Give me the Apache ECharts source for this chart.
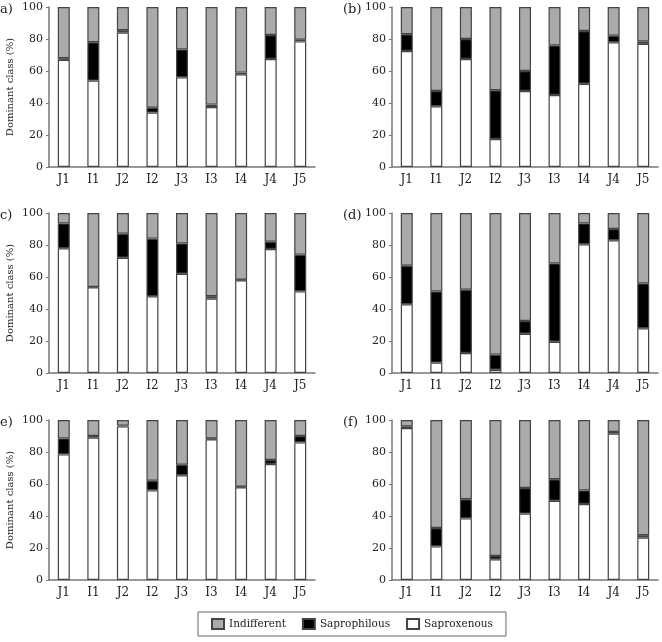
<!DOCTYPE html>
<html>
<head>
<meta charset="utf-8">
<script src="https://cdn.jsdelivr.net/npm/echarts@6/dist/echarts.min.js"></script>
<style>
  html, body { margin: 0; padding: 0; background: #fff; }
  #chart { width: 662px; height: 642px; }
</style>
</head>
<body>
<div id="chart"></div>
<script>
// sites along x
const categories = ["J1", "I1", "J2", "I2", "J3", "I3", "I4", "J4", "J5"];
const yTicks = [0, 20, 40, 60, 80, 100];

// panel a
const saproxA = [67, 54, 84, 34, 56, 37.5, 58, 67.5, 78.5];
const saprophA = [1, 24, 1.5, 3, 17.5, 1.5, 1, 15, 1];
const indiffA = [32, 22, 14.5, 63, 26.5, 61, 41, 17.5, 20.5];
// panel b
const saproxB = [72.5, 38, 67.5, 17.5, 47.5, 45, 52, 78, 77];
const saprophB = [10.5, 9.5, 12.5, 30.5, 12.5, 31, 33, 4, 1.5];
const indiffB = [17, 52.5, 20, 52, 40, 24, 15, 18, 21.5];
// panel c
const saproxC = [78, 53.5, 72, 48, 62, 46.5, 58, 77.5, 51];
const saprophC = [15.5, 0.3, 15, 36, 19, 1.5, 0.3, 4.5, 23];
const indiffC = [6.5, 46.2, 13, 16, 19, 52, 41.7, 18, 26];
// panel d
const saproxD = [43, 6.5, 12.5, 2, 24.5, 19.5, 80.5, 83, 28];
const saprophD = [24, 44.5, 39.5, 9.5, 8, 49, 13, 7, 28];
const indiffD = [33, 49, 48, 88.5, 67.5, 31.5, 6.5, 10, 44];
// panel e
const saproxE = [78.5, 89, 96, 56, 65.5, 88, 58, 72.5, 86];
const saprophE = [10, 1, 0.5, 6, 6.5, 0.5, 0.3, 2.5, 4];
const indiffE = [11.5, 10, 3.5, 38, 28, 11.5, 41.7, 25, 10];
// panel f
const saproxF = [95, 21, 38.5, 13, 41.5, 49.5, 47.5, 91.5, 26.5];
const saprophF = [1, 11.5, 12, 2, 16, 13.5, 8.5, 1, 1.5];
const indiffF = [4, 67.5, 49.5, 85, 42.5, 37, 44, 7.5, 72];

const panels = [
  { tag: "a)", sx: saproxA, sp: saprophA, ind: indiffA, left: 49, top: 7, title: true },
  { tag: "(b)", sx: saproxB, sp: saprophB, ind: indiffB, left: 392, top: 7, title: false },
  { tag: "c)", sx: saproxC, sp: saprophC, ind: indiffC, left: 49, top: 213, title: true },
  { tag: "(d)", sx: saproxD, sp: saprophD, ind: indiffD, left: 392, top: 213, title: false },
  { tag: "e)", sx: saproxE, sp: saprophE, ind: indiffE, left: 49, top: 420, title: true },
  { tag: "(f)", sx: saproxF, sp: saprophF, ind: indiffF, left: 392, top: 420, title: false }
];

const font = "DejaVu Serif";
const axisColor = "#777";
const barBorder = "#444";

const chart = echarts.init(document.getElementById("chart"));

const grid = [], xAxis = [], yAxis = [], series = [], graphic = [];

panels.forEach((p, i) => {
  grid.push({ left: p.left, top: p.top, width: 266, height: 160 });
  xAxis.push({
    type: "category",
    gridIndex: i,
    data: categories,
    axisTick: { show: false },
    axisLine: { lineStyle: { color: axisColor, width: 1.5 } },
    axisLabel: { color: "#222", fontFamily: font, fontSize: 12, margin: 7 }
  });
  yAxis.push({
    type: "value",
    gridIndex: i,
    min: 0,
    max: 100,
    interval: 20,
    name: p.title ? "Dominant class (%)" : "",
    nameLocation: "middle",
    nameGap: 34,
    nameTextStyle: { color: "#222", fontFamily: font, fontSize: 10 },
    splitLine: { show: false },
    axisLine: { show: true, lineStyle: { color: axisColor, width: 1.5 } },
    axisTick: { show: true, length: 3, lineStyle: { color: axisColor } },
    axisLabel: { color: "#222", fontFamily: font, fontSize: 11, margin: 6 }
  });
  const common = {
    type: "bar",
    xAxisIndex: i,
    yAxisIndex: i,
    stack: "s" + i,
    barWidth: 12,
    animation: false
  };
  series.push({ ...common, name: "Saproxenous", data: p.sx,
    itemStyle: { color: "#ffffff", borderColor: barBorder, borderWidth: 1.2 } });
  series.push({ ...common, name: "Saprophilous", data: p.sp,
    itemStyle: { color: "#000000", borderColor: barBorder, borderWidth: 1.2 } });
  series.push({ ...common, name: "Indifferent", data: p.ind,
    itemStyle: { color: "#aaaaaa", borderColor: barBorder, borderWidth: 1.2 } });
  graphic.push({
    type: "text",
    left: p.left === 49 ? 0 : 343,
    top: p.top - 4,
    style: { text: p.tag, fill: "#222", font: "13px " + font }
  });
});

chart.setOption({
  animation: false,
  grid: grid,
  xAxis: xAxis,
  yAxis: yAxis,
  series: series,
  graphic: graphic,
  legend: {
    data: ["Indifferent", "Saprophilous", "Saproxenous"],
    icon: "rect",
    left: 198,
    top: 612,
    padding: [6, 13, 6, 13],
    itemGap: 16,
    itemWidth: 12,
    itemHeight: 10,
    borderColor: "#666",
    borderWidth: 1,
    textStyle: { color: "#222", fontFamily: font, fontSize: 10.5 },
    selectedMode: false
  }
});
</script>
</body>
</html>
